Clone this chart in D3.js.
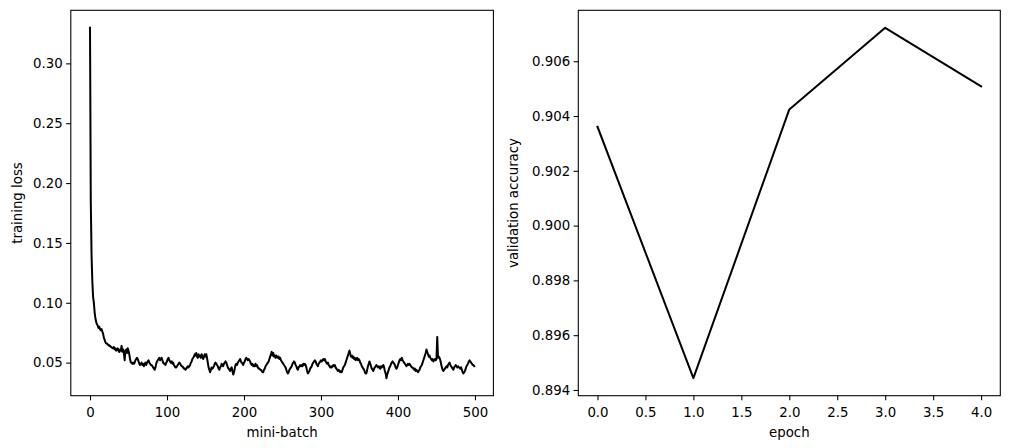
<!DOCTYPE html>
<html>
<head>
<meta charset="utf-8">
<script src="https://cdn.jsdelivr.net/npm/d3@7"></script>
<style>
  html, body { margin: 0; padding: 0; background: #fff; }
  svg { display: block; }
  text { font-family: "DejaVu Sans", sans-serif; fill: #000; }
</style>
</head>
<body>
<svg id="chart" width="1010" height="448"></svg>
<script>
// ---- data ----
const trainingLoss = [
  0.3297, 0.185, 0.140, 0.118, 0.105, 0.100, 0.092, 0.087, 0.084, 0.082,
  0.081, 0.079, 0.080, 0.078, 0.077, 0.078, 0.076, 0.074, 0.071, 0.069,
  0.067, 0.066, 0.066, 0.065, 0.065, 0.064, 0.064, 0.063, 0.063, 0.062,
  0.062, 0.063, 0.061, 0.062, 0.060, 0.061, 0.062, 0.060, 0.059, 0.061,
  0.060, 0.064, 0.059, 0.061, 0.058, 0.052, 0.060, 0.061, 0.058, 0.062,
  0.060, 0.057, 0.053, 0.050, 0.050, 0.049, 0.050, 0.049, 0.050, 0.052,
  0.053, 0.054, 0.053, 0.051, 0.049, 0.048, 0.049, 0.050, 0.048, 0.049,
  0.047, 0.049, 0.050, 0.048, 0.050, 0.051, 0.052, 0.050, 0.049, 0.048,
  0.048, 0.047, 0.046, 0.045, 0.044, 0.046, 0.049, 0.051, 0.052, 0.053,
  0.054, 0.052, 0.053, 0.054, 0.052, 0.050, 0.049, 0.049, 0.048, 0.050,
  0.051, 0.053, 0.054, 0.052, 0.051, 0.050, 0.051, 0.049, 0.050, 0.048,
  0.047, 0.046, 0.046, 0.047, 0.048, 0.049, 0.050, 0.049, 0.048, 0.047,
  0.047, 0.046, 0.045, 0.045, 0.044, 0.045, 0.046, 0.047, 0.046, 0.047,
  0.048, 0.050, 0.051, 0.053, 0.054, 0.055, 0.057, 0.056, 0.058, 0.055,
  0.054, 0.057, 0.055, 0.056, 0.054, 0.057, 0.055, 0.053, 0.055, 0.057,
  0.055, 0.057, 0.054, 0.050, 0.046, 0.044, 0.042, 0.044, 0.046, 0.045,
  0.046, 0.047, 0.049, 0.050, 0.049, 0.048, 0.047, 0.045, 0.044, 0.046,
  0.047, 0.049, 0.048, 0.047, 0.049, 0.050, 0.051, 0.050, 0.048, 0.046,
  0.045, 0.044, 0.043, 0.045, 0.046, 0.043, 0.040, 0.042, 0.045, 0.048,
  0.049, 0.048, 0.050, 0.051, 0.052, 0.053, 0.051, 0.050, 0.049, 0.048,
  0.050, 0.051, 0.053, 0.054, 0.053, 0.052, 0.053, 0.052, 0.051, 0.049,
  0.048, 0.049, 0.047, 0.048, 0.047, 0.049, 0.047, 0.048, 0.046, 0.045,
  0.045, 0.044, 0.044, 0.043, 0.042, 0.042, 0.044, 0.045, 0.047, 0.048,
  0.049, 0.050, 0.051, 0.053, 0.055, 0.057, 0.059, 0.056, 0.058, 0.055,
  0.056, 0.054, 0.056, 0.055, 0.054, 0.055, 0.053, 0.054, 0.052, 0.051,
  0.050, 0.049, 0.048, 0.047, 0.046, 0.044, 0.042, 0.041, 0.042, 0.044,
  0.045, 0.046, 0.047, 0.049, 0.050, 0.051, 0.050, 0.048, 0.047, 0.045,
  0.044, 0.046, 0.047, 0.048, 0.047, 0.048, 0.047, 0.049, 0.048, 0.049,
  0.048, 0.046, 0.043, 0.041, 0.042, 0.043, 0.045, 0.046, 0.047, 0.049,
  0.050, 0.051, 0.052, 0.051, 0.049, 0.048, 0.047, 0.049, 0.050, 0.051,
  0.052, 0.051, 0.052, 0.053, 0.052, 0.053, 0.051, 0.050, 0.049, 0.050,
  0.048, 0.047, 0.046, 0.047, 0.046, 0.047, 0.048, 0.047, 0.048, 0.046,
  0.045, 0.044, 0.043, 0.044, 0.043, 0.042, 0.043, 0.042, 0.044, 0.046,
  0.047, 0.048, 0.050, 0.052, 0.054, 0.056, 0.058, 0.060, 0.057, 0.055,
  0.056, 0.054, 0.055, 0.053, 0.054, 0.052, 0.053, 0.054, 0.052, 0.053,
  0.052, 0.050, 0.049, 0.047, 0.046, 0.045, 0.044, 0.042, 0.041, 0.041,
  0.044, 0.047, 0.049, 0.051, 0.049, 0.047, 0.045, 0.044, 0.043, 0.045,
  0.046, 0.047, 0.048, 0.047, 0.046, 0.047, 0.046, 0.045, 0.047, 0.046,
  0.047, 0.048, 0.046, 0.043, 0.041, 0.037, 0.040, 0.042, 0.044, 0.046,
  0.047, 0.049, 0.050, 0.051, 0.050, 0.049, 0.048, 0.046, 0.045, 0.046,
  0.048, 0.050, 0.052, 0.053, 0.052, 0.054, 0.052, 0.051, 0.050, 0.049,
  0.048, 0.047, 0.048, 0.049, 0.048, 0.049, 0.048, 0.047, 0.046, 0.046,
  0.045, 0.044, 0.045, 0.043, 0.044, 0.043, 0.042, 0.043, 0.044, 0.046,
  0.047, 0.048, 0.050, 0.052, 0.054, 0.056, 0.058, 0.061, 0.059, 0.057,
  0.055, 0.056, 0.054, 0.053, 0.052, 0.053, 0.051, 0.052, 0.053, 0.052,
  0.053, 0.0715, 0.054, 0.055, 0.054, 0.052, 0.049, 0.046, 0.044, 0.043,
  0.044, 0.045, 0.046, 0.047, 0.046, 0.048, 0.049, 0.050, 0.048, 0.047,
  0.046, 0.045, 0.044, 0.046, 0.047, 0.048, 0.047, 0.046, 0.047, 0.046,
  0.046, 0.045, 0.046, 0.044, 0.042, 0.041, 0.042, 0.043, 0.045, 0.047,
  0.048, 0.049, 0.051, 0.052, 0.051, 0.050, 0.049, 0.048, 0.048, 0.047
];
const epochs = [0, 1, 2, 3, 4];
const valAccuracy = [0.90361, 0.89443, 0.90424, 0.90722, 0.90508];

const lossXTicks = [0, 100, 200, 300, 400, 500];
const lossYTicks = [0.05, 0.10, 0.15, 0.20, 0.25, 0.30];
const accXTicks = [0.0, 0.5, 1.0, 1.5, 2.0, 2.5, 3.0, 3.5, 4.0];
const accYTicks = [0.894, 0.896, 0.898, 0.900, 0.902, 0.904, 0.906];

// ---- layout ----
const svg = d3.select("#chart");
const plotTop = 10.3, plotBottom = 395.7;
const FS = 13.33;
const tickLen = 4.67;

function pad(ext, f = 0.05) {
  const r = ext[1] - ext[0];
  return [ext[0] - r * f, ext[1] + r * f];
}

function drawPanel(opts) {
  const { left, right, xs, ys, xTicks, yTicks, xFmt, yFmt, xLabel, yLabel, yLabelX } = opts;
  const x = d3.scaleLinear().domain(pad(d3.extent(xs))).range([left, right]);
  const y = d3.scaleLinear().domain(pad(d3.extent(ys))).range([plotBottom, plotTop]);
  const g = svg.append("g");

  const xAxis = d3.axisBottom(x).tickValues(xTicks).tickFormat(xFmt)
    .tickSizeInner(tickLen).tickSizeOuter(0).tickPadding(3.5);
  const gx = g.append("g").attr("transform", `translate(0,${plotBottom})`).call(xAxis);
  const yAxis = d3.axisLeft(y).tickValues(yTicks).tickFormat(yFmt)
    .tickSizeInner(tickLen).tickSizeOuter(0).tickPadding(3.5);
  const gy = g.append("g").attr("transform", `translate(${left},0)`).call(yAxis);
  [gx, gy].forEach(a => {
    a.select(".domain").remove();
    a.selectAll(".tick line").attr("stroke", "#000").attr("stroke-width", 1.07);
    a.selectAll(".tick text").attr("font-size", FS).attr("fill", "#000")
      .attr("font-family", "DejaVu Sans, sans-serif");
  });
  gx.selectAll(".tick text").attr("dy", "0.95em");

  const line = d3.line().x((d, i) => x(xs[i])).y(d => y(d));
  g.append("path").datum(ys).attr("d", line)
    .attr("fill", "none").attr("stroke", "#000").attr("stroke-width", 2)
    .attr("stroke-linejoin", "round").attr("stroke-linecap", "square");

  g.append("rect").attr("x", left).attr("y", plotTop)
    .attr("width", right - left).attr("height", plotBottom - plotTop)
    .attr("fill", "none").attr("stroke", "#000").attr("stroke-width", 1.07);

  g.append("text").attr("x", (left + right) / 2).attr("y", 437)
    .attr("text-anchor", "middle").attr("font-size", FS).text(xLabel);
  g.append("text")
    .attr("transform", `translate(${yLabelX},${(plotTop + plotBottom) / 2}) rotate(-90)`)
    .attr("text-anchor", "middle").attr("font-size", FS).text(yLabel);
}

drawPanel({
  left: 70.8, right: 493.4,
  xs: trainingLoss.map((d, i) => i), ys: trainingLoss,
  xTicks: lossXTicks, yTicks: lossYTicks,
  xFmt: d3.format("d"), yFmt: d3.format(".2f"),
  xLabel: "mini-batch", yLabel: "training loss", yLabelX: 22
});

drawPanel({
  left: 578.3, right: 1000.3,
  xs: epochs, ys: valAccuracy,
  xTicks: accXTicks, yTicks: accYTicks,
  xFmt: d3.format(".1f"), yFmt: d3.format(".3f"),
  xLabel: "epoch", yLabel: "validation accuracy", yLabelX: 518
});
</script>
</body>
</html>
